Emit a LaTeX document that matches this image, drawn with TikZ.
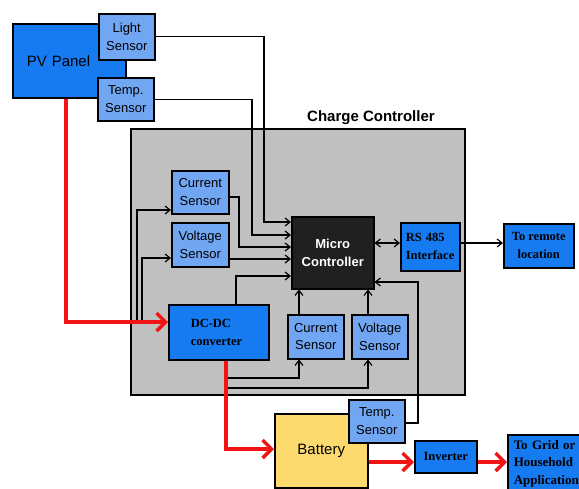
\documentclass[tikz,border=0pt]{standalone}
\usepackage{fontspec}
\setmainfont{Liberation Serif}
\setsansfont{Liberation Sans}
\usetikzlibrary{arrows.meta}
\definecolor{pvblue}{RGB}{22,122,240}
\definecolor{senblue}{RGB}{112,166,242}
\definecolor{ccgray}{RGB}{192,192,192}
\definecolor{batyel}{RGB}{253,218,110}
\definecolor{mcblack}{RGB}{32,32,32}
\definecolor{pwrred}{RGB}{240,20,20}
\tikzset{
  box/.style={draw=black, line width=1.5pt, anchor=north west, inner sep=0pt, align=center},
  sensorbox/.style={box, fill=senblue, font=\sffamily\fontsize{13}{17.5}\selectfont},
  serifbox/.style={box, fill=pvblue, font=\bfseries\fontsize{12.5}{18}\selectfont},
  sig/.style={draw=black, line width=1.2pt, -{Straight Barb[length=5pt,width=8pt,line width=1.2pt]}},
  sigline/.style={draw=black, line width=1.2pt},
  pwr/.style={draw=pwrred, line width=3.5pt, -{Straight Barb[length=9pt,width=18pt,line width=3.5pt]}},
}
\begin{document}
\begin{tikzpicture}[x=1pt,y=-1pt]
\useasboundingbox (0,0) rectangle (579,488);
% charge controller frame
\node[box, fill=ccgray, minimum width=334pt, minimum height=266pt] (cc) at (130,128) {};
\node[font=\sffamily\bfseries\fontsize{15}{18}\selectfont] (cct) at (371,118) {Charge Controller};
% PV panel and sensors
\node[box, fill=pvblue, minimum width=113pt, minimum height=74pt, font=\sffamily\fontsize{15}{18}\selectfont, text width=113pt, align=left] (pv) at (12,23) {\hspace*{14pt}PV Panel};
\node[sensorbox, minimum width=56pt, minimum height=46pt] (ls) at (98,13) {Light\\Sensor};
\node[sensorbox, minimum width=56pt, minimum height=43pt] (ts) at (97,77) {Temp.\\Sensor};
% inner sensors
\node[sensorbox, minimum width=57pt, minimum height=43pt] (cl) at (171,170) {Current\\Sensor};
\node[sensorbox, minimum width=57pt, minimum height=44pt] (vl) at (171,222) {Voltage\\Sensor};
\node[box, fill=mcblack, text=white, minimum width=82pt, minimum height=72pt, font=\sffamily\bfseries\fontsize{13}{18}\selectfont] (mc) at (291,216) {Micro\\Controller};
\node[serifbox, minimum width=59pt, minimum height=48pt, text width=55pt, align=left] (rs) at (400,222) {\hspace*{3pt}RS 485\\\hspace*{3pt}Interface};
\node[serifbox, minimum width=100pt, minimum height=55pt, text width=100pt, align=left] (dc) at (168,304) {\hspace*{22pt}DC-DC\\\hspace*{22pt}converter};
\node[sensorbox, minimum width=56pt, minimum height=44pt] (cb) at (287,314) {Current\\Sensor};
\node[sensorbox, minimum width=56pt, minimum height=44pt] (vb) at (351,314) {Voltage\\Sensor};
% outside
\node[serifbox, minimum width=70pt, minimum height=44pt] (rm) at (503,223) {To remote\\location};
\node[box, fill=batyel, minimum width=93pt, minimum height=74pt, font=\sffamily\fontsize{15}{18}\selectfont] (bat) at (274,413) {Battery};
\node[sensorbox, minimum width=56pt, minimum height=43pt] (tb) at (348,399) {Temp.\\Sensor};
\node[serifbox, minimum width=62pt, minimum height=32pt] (inv) at (414,440) {Inverter};
\node[serifbox, minimum width=90pt, minimum height=58pt, text width=86pt, align=left, font=\bfseries\fontsize{13}{17.5}\selectfont] (grid) at (507,434) {\hspace*{4pt}To Grid or\\\hspace*{4pt}Household\\\hspace*{4pt}Applications};
% signal connectors
\draw[sig] (ls.east) -| (264,222) -- (mc.west |- 0,222);
\draw[sig] (ts.east) -| (252,235) -- (mc.west |- 0,235);
\draw[sig] (cl.east |- 0,197) -| (239,247) -- (mc.west |- 0,247);
\draw[sig] (vl.east |- 0,259) -- (mc.west |- 0,259);
\draw[sig] (dc.north -| 236,0) |- (mc.west |- 0,276);
\coordinate (fa) at (137,322);
\coordinate (fb) at (142,322);
\draw[sig] (fa) |- (cl.west |- 0,210);
\draw[sig] (fb) |- (vl.west |- 0,258);
\coordinate (ga) at (227,378);
\coordinate (gb) at (227,388);
\draw[sig] (ga) -| (cb.south -| 299,0);
\draw[sig] (gb) -| (vb.south -| 368,0);
\draw[sig] (cb.north -| 299,0) -- (mc.south -| 299,0);
\draw[sig] (vb.north -| 368,0) -- (mc.south -| 368,0);
\draw[sig] (tb.east |- 0,423) -| (418,282) -- (mc.east |- 0,282);
\draw[sigline, {Straight Barb[length=5pt,width=8pt,line width=1.2pt]}-{Straight Barb[length=5pt,width=8pt,line width=1.2pt]}] (mc.east |- 0,243) -- (rs.west |- 0,243);
\draw[sig] (rs.east |- 0,243) -- (rm.west |- 0,243);
% power connectors
\draw[pwr] (pv.south -| 66,0) |- (dc.west |- 0,322);
\draw[pwr] (dc.south -| 226,0) |- (bat.west |- 0,449);
\draw[pwr] (bat.east |- 0,462) -- (inv.west |- 0,462);
\draw[pwr] (inv.east |- 0,462) -- (grid.west |- 0,462);
\end{tikzpicture}
\end{document}
